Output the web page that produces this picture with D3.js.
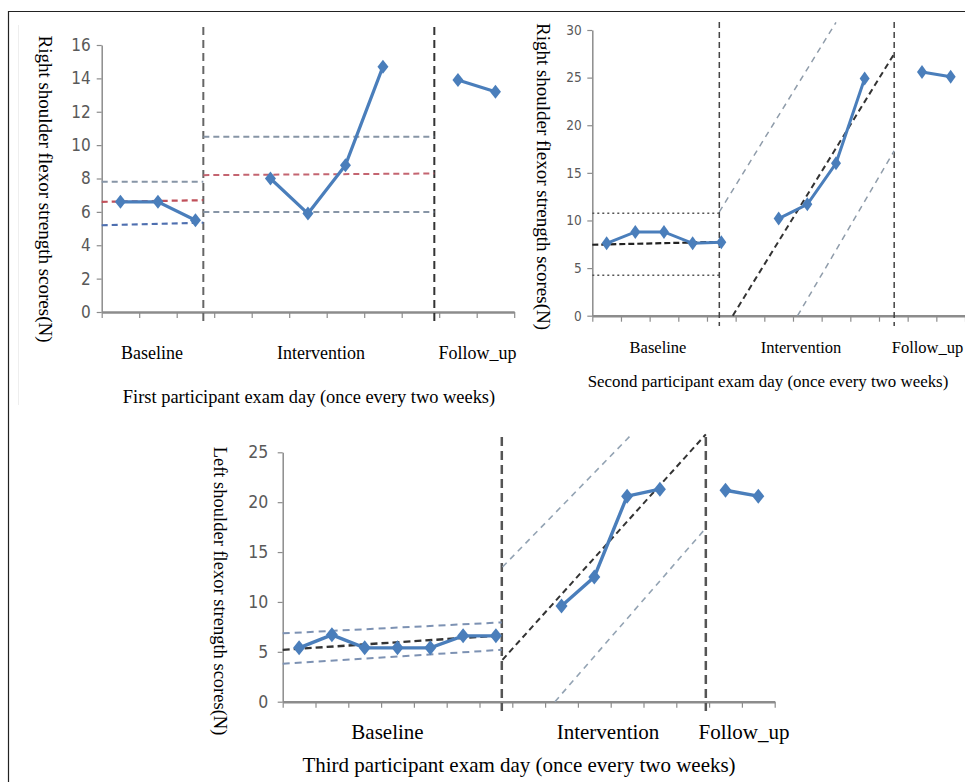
<!DOCTYPE html>
<html>
<head>
<meta charset="utf-8">
<script src="https://cdn.jsdelivr.net/npm/d3@7"></script>
<style>
  body { margin: 0; background: #fff; }
  svg { display: block; }
  .tick text { font-family: "Liberation Sans Narrow", "DejaVu Sans Condensed", "Liberation Sans", sans-serif; fill: #595959; }
  .lbl { font-family: "Liberation Serif", "Times New Roman", serif; fill: #000; }
</style>
</head>
<body>
<div id="chart"></div>
<script>
// phase names under each x axis
const phases = ["Baseline", "Intervention", "Follow_up"];

// scores per exam day (null = empty slot between phases)
const p1Scores = [6.6, 6.6, 5.5, null, 8.0, 5.9, 8.8, 14.7, null, 13.9, 13.2];
const p2Scores = [7.6, 8.8, 8.8, 7.6, 7.7, null, 10.2, 11.7, 16.0, 24.9, null, 25.6, 25.1];
const p3Scores = [5.4, 6.7, 5.4, 5.4, 5.4, 6.6, 6.6, null, 9.6, 12.5, 20.6, 21.3, null, 21.2, 20.6];

// y tick values
const p1Ticks = [0, 2, 4, 6, 8, 10, 12, 14, 16];
const p2Ticks = [0, 5, 10, 15, 20, 25, 30];
const p3Ticks = [0, 5, 10, 15, 20, 25];

// phase change lines (slot units)
const p1Dividers = [2.71, 8.87];
const p2Dividers = [4.43, 10.53];
const p3Dividers = [6.68, 12.9];

// level / trend lines: start [slot, score] -> end [slot, score]
const p1Bands = [
  { phase: "b", kind: "upper", a: [0, 7.8], b: [2.71, 7.8] },
  { phase: "b", kind: "mean", a: [0, 6.6], b: [2.71, 6.7] },
  { phase: "b", kind: "lower", a: [0, 5.2], b: [2.71, 5.35] },
  { phase: "i", kind: "upper", a: [2.71, 10.5], b: [8.87, 10.5] },
  { phase: "i", kind: "mean", a: [2.71, 8.2], b: [8.87, 8.3] },
  { phase: "i", kind: "lower", a: [2.71, 6.0], b: [8.87, 6.0] }
];
const p2Bands = [
  { phase: "b", kind: "upper", a: [0, 10.75], b: [4.43, 10.75] },
  { phase: "b", kind: "mean", a: [0, 7.45], b: [4.43, 7.75] },
  { phase: "b", kind: "lower", a: [0, 4.25], b: [4.43, 4.25] },
  { phase: "i", kind: "upper", a: [4.43, 10.9], b: [8.5, 30.8] },
  { phase: "i", kind: "mean", a: [4.9, 0], b: [10.53, 27.5] },
  { phase: "i", kind: "lower", a: [7.16, 0], b: [10.53, 17.3] }
];
const p3Bands = [
  { phase: "b", kind: "upper", a: [0, 6.85], b: [6.68, 7.95] },
  { phase: "b", kind: "mean", a: [0, 5.2], b: [6.68, 6.65] },
  { phase: "b", kind: "lower", a: [0, 3.8], b: [6.68, 5.2] },
  { phase: "i", kind: "upper", a: [6.7, 13.5], b: [10.64, 26.8] },
  { phase: "i", kind: "mean", a: [6.7, 4.2], b: [12.9, 26.8] },
  { phase: "i", kind: "lower", a: [8.3, 0], b: [12.9, 17.4] }
];

const svg = d3.select("#chart").append("svg")
  .attr("width", 965)
  .attr("height", 782);

// outer frame (top + left only)
svg.append("line").attr("x1", 8).attr("x2", 965).attr("y1", 11.5).attr("y2", 11.5)
  .attr("stroke", "#222").attr("stroke-width", 1.2);
svg.append("line").attr("x1", 8.5).attr("x2", 8.5).attr("y1", 11).attr("y2", 782)
  .attr("stroke", "#222").attr("stroke-width", 1.2);
svg.append("line").attr("x1", 18.5).attr("x2", 18.5).attr("y1", 25).attr("y2", 405)
  .attr("stroke", "#eee").attr("stroke-width", 1);

const blue = "#4a7ebb";

function drawPanel(c) {
  const g = svg.append("g");
  const n = c.scores.length;
  const x = d3.scaleLinear().domain([0, n]).range([c.left, c.right]);
  const y = d3.scaleLinear().domain([0, c.yMax]).range([c.bottom, c.top]);

  // y axis
  const ya = g.append("g")
    .attr("transform", `translate(${c.left},0)`)
    .call(d3.axisLeft(y).tickValues(c.ticks).tickSizeOuter(0).tickSizeInner(5).tickPadding(c.tickPad));
  ya.select(".domain").attr("stroke", "#8c8c8c").attr("stroke-width", 1.5);
  ya.selectAll(".tick line").attr("stroke", "#8c8c8c").attr("stroke-width", 1.2);
  ya.selectAll(".tick text").attr("font-size", c.tickFont);

  // x axis with ticks between exam days
  const xa = g.append("g")
    .attr("transform", `translate(0,${c.bottom})`)
    .call(d3.axisBottom(x).tickValues(d3.range(0, n + 1)).tickFormat("").tickSizeOuter(0).tickSizeInner(6));
  xa.select(".domain").attr("stroke", "#8c8c8c").attr("stroke-width", 2.5);
  xa.selectAll(".tick line").attr("stroke", "#8c8c8c").attr("stroke-width", 1.2);

  // phase change lines
  g.selectAll(".divider")
    .data(c.dividers)
    .join("line")
    .attr("class", "divider")
    .attr("x1", d => x(d)).attr("x2", d => x(d))
    .attr("y1", c.divTop).attr("y2", c.divBottom)
    .attr("stroke", (d, i) => c.divColor[i])
    .attr("stroke-width", c.divWidth)
    .attr("stroke-dasharray", c.divDash);

  // level and trend lines
  g.selectAll(".band")
    .data(c.bands)
    .join("line")
    .attr("class", "band")
    .attr("x1", d => x(d.a[0])).attr("y1", d => y(d.a[1]))
    .attr("x2", d => x(d.b[0])).attr("y2", d => y(d.b[1]))
    .each(function(d) {
      const s = c.bandStyle[d.phase + "-" + d.kind];
      d3.select(this)
        .attr("stroke", s.color)
        .attr("stroke-width", s.w)
        .attr("stroke-dasharray", s.dash)
        .attr("stroke-linecap", "butt");
    });

  // scores
  const pts = c.scores.map((v, i) => ({ i, v }));
  const line = d3.line()
    .defined(d => d.v != null)
    .x(d => x(d.i + 0.5))
    .y(d => y(d.v));
  g.append("path")
    .datum(pts)
    .attr("fill", "none")
    .attr("stroke", blue)
    .attr("stroke-width", c.lineW)
    .attr("d", line);

  const hw = c.marker[0], hh = c.marker[1];
  g.selectAll(".pt")
    .data(pts.filter(d => d.v != null))
    .join("path")
    .attr("class", "pt")
    .attr("transform", d => `translate(${x(d.i + 0.5)},${y(d.v)})`)
    .attr("d", `M0,${-hh}L${hw},0L0,${hh}L${-hw},0Z`)
    .attr("fill", blue);

  // texts
  g.append("text")
    .attr("class", "lbl")
    .attr("transform", `translate(${c.yLab[0]},${c.yLab[1]}) rotate(90)`)
    .attr("text-anchor", "middle")
    .attr("dominant-baseline", "central")
    .attr("font-size", c.yLabFont)
    .text(c.yTitle);

  g.selectAll(".phase")
    .data(phases)
    .join("text")
    .attr("class", "lbl phase")
    .attr("x", (d, i) => c.phaseX[i])
    .attr("y", c.phaseY)
    .attr("text-anchor", "middle")
    .attr("font-size", c.phaseFont)
    .text(d => d);

  g.append("text")
    .attr("class", "lbl")
    .attr("x", c.titleX)
    .attr("y", c.titleY)
    .attr("text-anchor", "middle")
    .attr("font-size", c.titleFont)
    .text(c.title);
}

drawPanel({
  scores: p1Scores, ticks: p1Ticks, dividers: p1Dividers, bands: p1Bands,
  left: 101.7, right: 514.2, bottom: 312, top: 45, yMax: 16,
  tickFont: 17, tickPad: 6,
  divTop: 27, divBottom: 325, divColor: ["#666", "#333"], divWidth: 2, divDash: "8,5",
  bandStyle: {
    "b-upper": { color: "#8795a6", w: 2, dash: "6,4" },
    "b-mean": { color: "#c0505a", w: 2.2, dash: "6,4" },
    "b-lower": { color: "#4e6fb0", w: 2.2, dash: "6,4" },
    "i-upper": { color: "#8795a6", w: 2, dash: "6,4" },
    "i-mean": { color: "#c46470", w: 2, dash: "6,4" },
    "i-lower": { color: "#8795a6", w: 2, dash: "6,4" }
  },
  lineW: 3.2, marker: [5.5, 7],
  yLab: [45, 189], yLabFont: 19, yTitle: "Right shoulder flexor strength scores(N)",
  phaseX: [152, 321, 477.5], phaseY: 359, phaseFont: 18,
  titleX: 309, titleY: 403, titleFont: 18.4, title: "First participant exam day (once every two weeks)"
});

drawPanel({
  scores: p2Scores, ticks: p2Ticks, dividers: p2Dividers, bands: p2Bands,
  left: 592.3, right: 965, bottom: 315.7, top: 30, yMax: 30,
  tickFont: 13.5, tickPad: 5.5,
  divTop: 22, divBottom: 326, divColor: ["#444", "#444"], divWidth: 1.5, divDash: "6,4",
  bandStyle: {
    "b-upper": { color: "#555", w: 1.6, dash: "2,3" },
    "b-mean": { color: "#222", w: 2.2, dash: "6,3" },
    "b-lower": { color: "#555", w: 1.6, dash: "2,3" },
    "i-upper": { color: "#8f9caa", w: 1.5, dash: "6,5" },
    "i-mean": { color: "#333", w: 2, dash: "6,4" },
    "i-lower": { color: "#8f9caa", w: 1.5, dash: "6,5" }
  },
  lineW: 3, marker: [5, 7],
  yLab: [543, 176.5], yLabFont: 19, yTitle: "Right shoulder flexor strength scores(N)",
  phaseX: [658, 801, 927.5], phaseY: 353, phaseFont: 16.5,
  titleX: 768, titleY: 387, titleFont: 16.9, title: "Second participant exam day (once every two weeks)"
});

drawPanel({
  scores: p3Scores, ticks: p3Ticks, dividers: p3Dividers, bands: p3Bands,
  left: 282.7, right: 774.7, bottom: 701.7, top: 452.3, yMax: 25,
  tickFont: 17.5, tickPad: 9.4,
  divTop: 437, divBottom: 711, divColor: ["#555", "#555"], divWidth: 2.5, divDash: "9,5",
  bandStyle: {
    "b-upper": { color: "#7d92b3", w: 2, dash: "7,5" },
    "b-mean": { color: "#333", w: 2.4, dash: "7,4" },
    "b-lower": { color: "#7d92b3", w: 2, dash: "7,5" },
    "i-upper": { color: "#93a3b3", w: 1.6, dash: "6,5" },
    "i-mean": { color: "#333", w: 2, dash: "6,4" },
    "i-lower": { color: "#93a3b3", w: 1.6, dash: "6,5" }
  },
  lineW: 3.4, marker: [6, 7.5],
  yLab: [220, 591], yLabFont: 18.5, yTitle: "Left shoulder flexor strength scores(N)",
  phaseX: [387.5, 608, 744], phaseY: 739, phaseFont: 21,
  titleX: 519, titleY: 771.5, titleFont: 21, title: "Third participant exam day (once every two weeks)"
});
</script>
</body>
</html>
